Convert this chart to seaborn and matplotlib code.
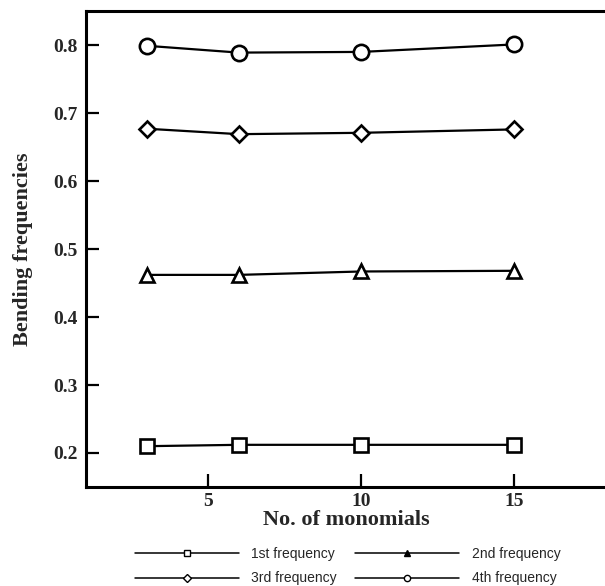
import matplotlib
matplotlib.use("Agg")
import matplotlib.pyplot as plt
import seaborn as sns
import pandas as pd

monomials = [3, 6, 10, 15]
freq1 = [0.210, 0.212, 0.212, 0.212]
freq2 = [0.462, 0.462, 0.467, 0.468]
freq3 = [0.677, 0.669, 0.671, 0.676]
freq4 = [0.799, 0.789, 0.790, 0.801]
labels = ["1st frequency", "2nd frequency", "3rd frequency", "4th frequency"]
xticks = [5, 10, 15]
yticks = [0.2, 0.3, 0.4, 0.5, 0.6, 0.7, 0.8]

sns.set_theme(style="ticks")
plt.rcParams["font.family"] = ["Liberation Serif", "DejaVu Serif"]

rows = []
for lab, vals in zip(labels, [freq1, freq2, freq3, freq4]):
    for x, v in zip(monomials, vals):
        rows.append({"x": x, "y": v, "series": lab})
df = pd.DataFrame(rows)

fig = plt.figure(figsize=(6.05, 5.86), dpi=100)
ax = fig.add_axes([0.1417, 0.169, 0.8600, 0.812])

markers = {"1st frequency": "s", "2nd frequency": "^", "3rd frequency": "D", "4th frequency": "o"}
msizes = {"1st frequency": 9.5, "2nd frequency": 9.5, "3rd frequency": 8, "4th frequency": 11}
for lab in labels:
    sub = df[df["series"] == lab]
    sns.lineplot(data=sub, x="x", y="y", ax=ax, color="black", linewidth=1.6,
                 marker=markers[lab], markersize=msizes[lab], markerfacecolor="white",
                 markeredgecolor="black", markeredgewidth=1.9, label=lab)

ax.set_xlim(1, 18)
ax.set_ylim(0.15, 0.85)
ax.set_xticks(xticks)
ax.set_xticklabels([str(t) for t in xticks])
ax.set_yticks(yticks)
ax.set_yticklabels([f"{t:.1f}" for t in yticks])
ax.tick_params(direction="in", length=9.5, width=1.6, labelsize=14, pad=6, color="black")
for lbl in ax.get_xticklabels() + ax.get_yticklabels():
    lbl.set_fontweight("bold")
ax.tick_params(axis="x", pad=4)
for s in ax.spines.values():
    s.set_linewidth(2.2)
    s.set_color("black")
ax.set_xlabel("No. of monomials", fontsize=16, fontweight="bold", labelpad=0)
ax.set_ylabel("Bending frequencies", fontsize=16, fontweight="bold", labelpad=14)

handles, labs = ax.get_legend_handles_labels()
order = [0, 2, 1, 3]
leg = ax.legend([handles[i] for i in order], [labs[i] for i in order], ncol=2,
                loc="upper center", bbox_to_anchor=(0.503, -0.102),
                frameon=False, handlelength=7.5, handletextpad=0.9, columnspacing=1.3,
                labelspacing=0.78, numpoints=1, borderpad=0.3,
                prop={"family": "Liberation Sans", "size": 10})
for h in leg.legend_handles:
    h.set_markersize(4.5)
    h.set_linewidth(1.1)
    h.set_markeredgewidth(1.0)
leg.legend_handles[2].set_markerfacecolor("black")

fig.savefig("out.png", dpi=100)
